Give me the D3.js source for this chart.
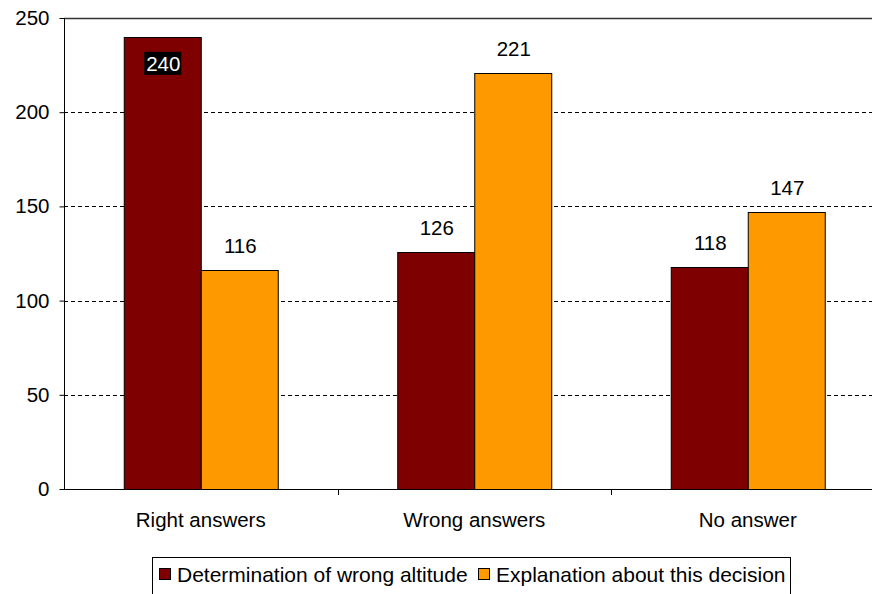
<!DOCTYPE html>
<html><head><meta charset="utf-8">
<script src="https://cdn.jsdelivr.net/npm/d3@7"></script>
<style>body{margin:0;background:#fff}svg{display:block}</style>
</head><body>
<svg id="c" width="872" height="594"></svg>
<script>
const categories = ["Right answers", "Wrong answers", "No answer"];
const seriesNames = ["Determination of wrong altitude", "Explanation about this decision"];
const seriesA = [240, 126, 118];
const seriesB = [116, 221, 147];
const yTicks = [0, 50, 100, 150, 200, 250];
const colors = ["#7f0000", "#ff9900"];

(function () {
const svg = d3.select("#c");
const font = "Liberation Sans, Arial, sans-serif";
const fs = 20.5;
const pLeft = 64, pTop = 18, pBottom = 489, bandW = 273.5;
const x = d3.scaleBand().domain(categories).range([pLeft, pLeft + bandW * 3]).padding(0);
const y = d3.scaleLinear().domain([0, 250]).range([pBottom, pTop]);
const barW = 77;

// gridlines
svg.append("g").selectAll("line").data(yTicks.filter(t => t > 0 && t < 250)).join("line")
  .attr("x1", pLeft).attr("x2", 872).attr("y1", d => Math.round(y(d)) + 0.5).attr("y2", d => Math.round(y(d)) + 0.5)
  .attr("stroke", "#000").attr("stroke-dasharray", "4,3");
// top border
svg.append("line").attr("x1", pLeft).attr("x2", 872).attr("y1", pTop + 0.5).attr("y2", pTop + 0.5).attr("stroke", "#333").attr("stroke-width", 1.5);

const data = categories.map((c, i) => ({c, v: [seriesA[i], seriesB[i]]}));
const g = svg.append("g");
data.forEach(d => {
  const cx = x(d.c) + x.bandwidth() / 2;
  d.v.forEach((v, j) => {
    g.append("rect")
      .attr("x", cx - barW + j * barW + 0.5).attr("y", Math.round(y(v)) + 0.5)
      .attr("width", barW).attr("height", pBottom - Math.round(y(v)))
      .attr("fill", colors[j]).attr("stroke", "#000").attr("stroke-width", 1);
    const lx = cx - barW / 2 + j * barW;
    if (v === 240) {
      svg.append("rect").attr("x", lx - 18).attr("y", y(v) + 15).attr("width", 37).attr("height", 23).attr("fill", "#000");
      svg.append("text").attr("x", lx + 1).attr("y", y(v) + 34).attr("text-anchor", "middle")
        .attr("font-family", font).attr("font-size", fs).attr("fill", "#fff").text(v);
    } else {
      svg.append("text").attr("x", lx + 1).attr("y", y(v) - 17).attr("text-anchor", "middle")
        .attr("font-family", font).attr("font-size", fs).attr("fill", "#000").text(v);
    }
  });
});

// y axis
const yAxis = d3.axisLeft(y).tickValues(yTicks).tickSize(5).tickPadding(10);
const ya = svg.append("g").attr("transform", `translate(${pLeft + 0.5},0)`).call(yAxis);
ya.select(".domain").attr("d", `M0,${pTop}V${pBottom}`).attr("stroke", "#000");
ya.selectAll("text").attr("font-family", font).attr("font-size", fs).attr("fill", "#000");
ya.selectAll(".tick line").attr("stroke", "#000");

// x axis
svg.append("line").attr("x1", pLeft).attr("x2", 872).attr("y1", pBottom + 0.5).attr("y2", pBottom + 0.5).attr("stroke", "#000");
svg.append("g").selectAll("line").data(categories.slice(1)).join("line")
  .attr("x1", d => Math.round(x(d)) + 0.5).attr("x2", d => Math.round(x(d)) + 0.5)
  .attr("y1", pBottom).attr("y2", pBottom + 6).attr("stroke", "#000");
svg.append("g").selectAll("text").data(categories).join("text")
  .attr("x", d => x(d) + x.bandwidth() / 2).attr("y", 527).attr("text-anchor", "middle")
  .attr("font-family", font).attr("font-size", fs).attr("fill", "#000").text(d => d);

// legend
const lg = svg.append("g");
lg.append("rect").attr("x", 152.5).attr("y", 557.5).attr("width", 638).attr("height", 40).attr("fill", "#fff").attr("stroke", "#000");
const items = [{x: 159, n: seriesNames[0], c: colors[0]}, {x: 478, n: seriesNames[1], c: colors[1]}];
items.forEach(it => {
  lg.append("rect").attr("x", it.x + 0.5).attr("y", 568.5).attr("width", 11).attr("height", 11).attr("fill", it.c).attr("stroke", "#000");
  lg.append("text").attr("x", it.x + 18).attr("y", 582).attr("font-family", font).attr("font-size", 21).attr("fill", "#000").text(it.n);
});
})();
</script>
</body></html>
